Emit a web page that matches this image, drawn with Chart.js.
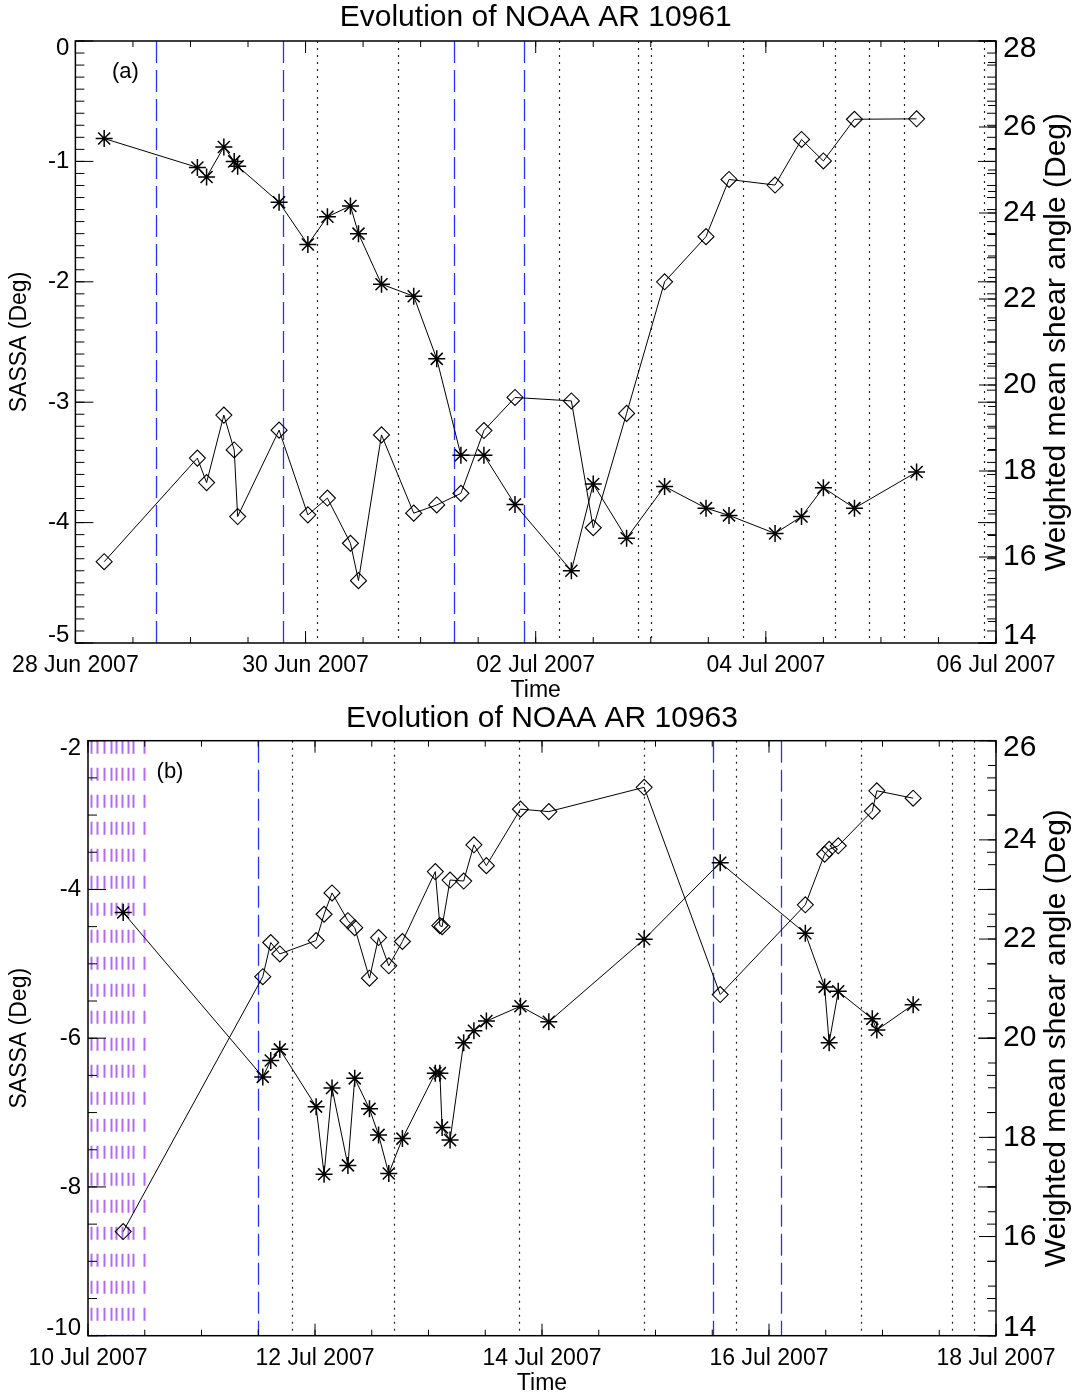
<!DOCTYPE html>
<html lang="en">
<head>
<meta charset="UTF-8">
<title>Evolution of NOAA AR 10961 / 10963</title>
<script src="https://cdn.jsdelivr.net/npm/chart.js"></script>
<style>
  body { margin: 0; background: #fff; }
  .panel { position: absolute; left: 0; width: 1074px; }
</style>
</head>
<body>
<div class="panel" style="top:0;height:704px"><canvas id="chartA"></canvas></div>
<div class="panel" style="top:698px;height:699px"><canvas id="chartB"></canvas></div>
<script>
// ---- panel (a): NOAA AR 10961, time in days after 28 Jun 2007 00:00 ----
const timesA = [0.25, 1.06, 1.14, 1.29, 1.38, 1.41, 1.77, 2.02, 2.19, 2.39, 2.46, 2.66, 2.94, 3.14,
                3.35, 3.55, 3.82, 4.31, 4.50, 4.79, 5.12, 5.48, 5.68, 6.08, 6.31, 6.50, 6.77, 7.31];
const sassaA = [-0.81, -1.05, -1.13, -0.88, -1.00, -1.04, -1.34, -1.69, -1.46, -1.37, -1.60, -2.02, -2.12, -2.64,
                -3.44, -3.44, -3.85, -4.40, -3.68, -4.13, -3.70, -3.88, -3.94, -4.09, -3.95, -3.71, -3.88, -3.58];
const shearA = [15.89, 18.30, 17.73, 19.30, 18.49, 16.94, 18.95, 16.98, 17.37, 16.32, 15.45, 18.84, 17.02, 17.21,
                17.48, 18.94, 19.71, 19.63, 16.68, 19.34, 22.40, 23.45, 24.78, 24.65, 25.71, 25.21, 26.18, 26.19];
const xLabelsA = ['28 Jun 2007', '30 Jun 2007', '02 Jul 2007', '04 Jul 2007', '06 Jul 2007'];
const blueA = [0.70, 1.80, 3.29, 3.90];
const dottedA = [2.10, 2.80, 4.20, 4.89, 5.00, 5.80, 6.60, 6.90, 7.20, 7.90];

// ---- panel (b): NOAA AR 10963, time in days after 10 Jul 2007 00:00 ----
const timesB = [0.31, 1.54, 1.61, 1.69, 2.01, 2.08, 2.15, 2.29, 2.35, 2.48, 2.56, 2.65, 2.77, 3.06, 3.10, 3.12,
                3.19, 3.31, 3.40, 3.51, 3.81, 4.06, 4.90, 5.57, 6.32, 6.49, 6.53, 6.61, 6.91, 6.95, 7.27];
const sassaB = [-4.31, -6.52, -6.30, -6.15, -6.92, -7.83, -6.67, -7.71, -6.54, -6.95, -7.30, -7.82, -7.35, -6.47, -6.47, -7.20,
                -7.37, -6.06, -5.90, -5.77, -5.57, -5.78, -4.67, -3.64, -4.59, -5.31, -6.06, -5.37, -5.74, -5.89, -5.55];
const shearB = [16.10, 21.24, 21.93, 21.70, 21.97, 22.50, 22.93, 22.37, 22.23, 21.21, 22.03, 21.46, 21.95, 23.36, 22.27, 22.25,
                23.19, 23.17, 23.90, 23.48, 24.62, 24.57, 25.06, 20.88, 22.69, 23.71, 23.81, 23.88, 24.58, 24.99, 24.84];
const xLabelsB = ['10 Jul 2007', '12 Jul 2007', '14 Jul 2007', '16 Jul 2007', '18 Jul 2007'];
const blueB = [1.50, 5.51, 6.11];
const dottedB = [1.80, 2.70, 3.80, 4.90, 5.71, 6.81, 7.61, 7.81];
const purpleB = [0.03, 0.08, 0.14, 0.20, 0.25, 0.30, 0.35, 0.40, 0.49];

Chart.defaults.font.family = "'Liberation Sans', Arial, sans-serif";
Chart.defaults.color = '#000';

// end labels of the y axes sit inside the box, like the original plot:
// an empty second line nudges them by half a line height
function yLabel(v, i, ticks) {
    if (i === 0) return [String(v), ''];
    if (i === ticks.length - 1) return ['', String(v)];
    return String(v);
}

// flare lines, box with inward ticks, panel tag and right axis title
const panelDecor = {
    id: 'panelDecor',
    beforeDatasetsDraw(chart, args, opts) {
        const { ctx, chartArea: a, scales: { x } } = chart;
        ctx.save();
        ctx.beginPath();
        ctx.rect(a.left, a.top, a.width, a.height);
        ctx.clip();
        opts.events.forEach(ev => {
            ctx.strokeStyle = ev.color;
            ctx.lineWidth = ev.width;
            ctx.setLineDash(ev.dash);
            ev.times.forEach(t => {
                const px = Math.round(x.getPixelForValue(t)) + 0.5;
                ctx.beginPath();
                ctx.moveTo(px, a.top);
                ctx.lineTo(px, a.bottom);
                ctx.stroke();
            });
        });
        ctx.restore();
    },
    afterDraw(chart, args, opts) {
        const { ctx, chartArea: a, scales } = chart;
        ctx.save();
        ctx.strokeStyle = '#000';
        ctx.setLineDash([]);

        function each(scale, step, fn) {
            const n = Math.round((scale.max - scale.min) / step);
            for (let i = 0; i <= n; i++) fn(scale.getPixelForValue(scale.min + i * step));
        }
        ctx.lineWidth = 1;
        ctx.beginPath();
        // x ticks, bottom and top
        [[0.5, 6], [2, 12]].forEach(([step, len]) => each(scales.x, step, px => {
            ctx.moveTo(px, a.bottom); ctx.lineTo(px, a.bottom - len);
            ctx.moveTo(px, a.top); ctx.lineTo(px, a.top + len);
        }));
        // left axis ticks, mirrored on the right edge
        [[opts.yMinor, 9], [opts.yMajor, 18]].forEach(([step, len]) => each(scales.y, step, py => {
            ctx.moveTo(a.left, py); ctx.lineTo(a.left + len, py);
            ctx.moveTo(a.right, py); ctx.lineTo(a.right - len, py);
        }));
        // right axis ticks
        [[0.5, 8], [2, 17]].forEach(([step, len]) => each(scales.y2, step, py => {
            ctx.moveTo(a.right, py); ctx.lineTo(a.right - len, py);
        }));
        ctx.stroke();

        ctx.lineWidth = 1.5;
        ctx.strokeRect(a.left, a.top, a.width, a.height);

        ctx.fillStyle = '#000';
        ctx.textAlign = 'center';
        ctx.textBaseline = 'middle';
        ctx.font = "22px 'Liberation Sans', Arial, sans-serif";
        ctx.fillText(opts.tag, a.left + opts.tagDx, a.top + 31);

        ctx.font = "30px 'Liberation Sans', Arial, sans-serif";
        ctx.translate(1057, (a.top + a.bottom) / 2);
        ctx.rotate(-Math.PI / 2);
        ctx.fillText('Weighted mean shear angle (Deg)', 0, 0);
        ctx.restore();
    }
};

function makePanel(canvasId, cfg) {
    const pts = (ys) => cfg.times.map((t, i) => ({ x: t, y: ys[i] }));
    return new Chart(document.getElementById(canvasId), {
        type: 'line',
        data: {
            datasets: [{
                data: pts(cfg.sassa),
                yAxisID: 'y',
                borderColor: '#000',
                borderWidth: 1,
                pointStyle: 'star',
                pointRadius: 8.5,
                pointBorderWidth: 1.5,
                pointBorderColor: '#000',
                fill: false
            }, {
                data: pts(cfg.shear),
                yAxisID: 'y2',
                borderColor: '#000',
                borderWidth: 1,
                pointStyle: 'rectRot',
                pointRadius: 8,
                pointBorderWidth: 1.1,
                pointBorderColor: '#000',
                pointBackgroundColor: 'rgba(0,0,0,0)',
                fill: false
            }]
        },
        options: {
            responsive: true,
            maintainAspectRatio: false,
            animation: false,
            layout: { padding: 0 },
            plugins: {
                legend: { display: false },
                tooltip: { enabled: false },
                title: {
                    display: true,
                    text: cfg.title,
                    fullSize: false,
                    font: { size: 30, weight: 'normal', lineHeight: 1 },
                    padding: cfg.titlePad,
                    color: '#000'
                },
                panelDecor: {
                    events: cfg.events,
                    tag: cfg.tag,
                    tagDx: cfg.tagDx,
                    yMinor: cfg.yMinor,
                    yMajor: cfg.yMajor
                }
            },
            scales: {
                x: {
                    type: 'linear',
                    min: 0,
                    max: 8,
                    grid: { display: false, drawTicks: false },
                    border: { display: false },
                    ticks: {
                        stepSize: 2,
                        maxRotation: 0,
                        autoSkip: false,
                        padding: 9,
                        font: { size: 23, lineHeight: 1.2 },
                        callback: (v) => cfg.xLabels[Math.round(v / 2)]
                    },
                    title: {
                        display: true,
                        text: 'Time',
                        font: { size: 23, lineHeight: 1 },
                        padding: { top: 0, bottom: 1.5 }
                    },
                    afterFit: (s) => { s.height = cfg.xHeight; }
                },
                y: {
                    position: 'left',
                    min: cfg.yMin,
                    max: cfg.yMax,
                    grid: { display: false, drawTicks: false },
                    border: { display: false },
                    ticks: {
                        stepSize: cfg.yMajor,
                        autoSkip: false,
                        padding: cfg.yPad,
                        font: { size: 24, lineHeight: 0.6 },
                        callback: yLabel
                    },
                    title: {
                        display: true,
                        text: 'SASSA (Deg)',
                        font: { size: 23, lineHeight: 1 },
                        padding: { top: 8.5, bottom: 0 }
                    },
                    afterFit: (s) => { s.width = cfg.left; }
                },
                y2: {
                    position: 'right',
                    min: 14,
                    max: cfg.y2Max,
                    grid: { display: false, drawTicks: false },
                    border: { display: false },
                    ticks: {
                        stepSize: 2,
                        autoSkip: false,
                        padding: 7,
                        font: { size: 30, lineHeight: 0.5 },
                        callback: yLabel
                    },
                    afterFit: (s) => { s.width = 78; }
                }
            }
        },
        plugins: [panelDecor]
    });
}

makePanel('chartA', {
    title: 'Evolution of NOAA AR 10961',
    titlePad: { top: 3, bottom: 8 },
    times: timesA, sassa: sassaA, shear: shearA, xLabels: xLabelsA,
    yMin: -5, yMax: 0, yMajor: 1, yMinor: 0.1, yPad: 6, y2Max: 28,
    left: 75.4, xHeight: 61,
    tag: '(a)', tagDx: 50,
    events: [
        { times: blueA, color: '#2233ff', width: 1.3, dash: [22, 7] },
        { times: dottedA, color: '#222', width: 1.2, dash: [2, 5] }
    ]
});

makePanel('chartB', {
    title: 'Evolution of NOAA AR 10963',
    titlePad: { top: 6, bottom: 6.7 },
    times: timesB, sassa: sassaB, shear: shearB, xLabels: xLabelsB,
    yMin: -10, yMax: -2, yMajor: 2, yMinor: 0.5, yPad: 7, y2Max: 26,
    left: 88, xHeight: 61.3,
    tag: '(b)', tagDx: 82,
    events: [
        { times: purpleB, color: '#b36bf2', width: 2, dash: [13, 14] },
        { times: blueB, color: '#2233ff', width: 1.3, dash: [22, 7] },
        { times: dottedB, color: '#222', width: 1.2, dash: [2, 5] }
    ]
});
</script>
</body>
</html>
